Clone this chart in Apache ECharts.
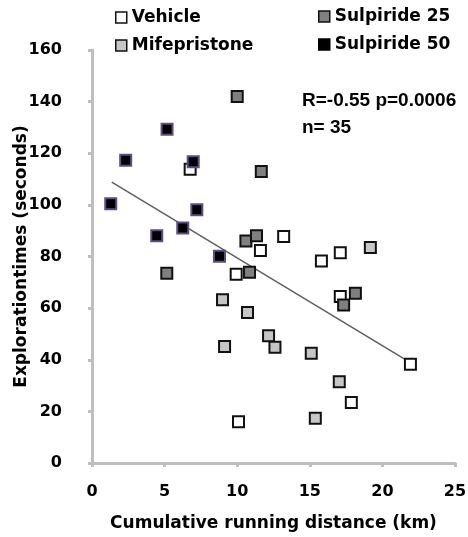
<!DOCTYPE html>
<html>
<head>
    <meta charset="utf-8">
    <title>Exploration vs running</title>
    <script src="https://cdn.jsdelivr.net/npm/echarts@6/dist/echarts.min.js"></script>
</head>
<body style="margin:0">
<div id="main" style="width: 468px;height:537px;"></div>
<script>
    // [km, seconds]
    var vehicle = [[6.76, 113.8], [13.2, 87.7], [11.6, 82.3], [15.8, 78.3], [17.1, 81.5],
        [9.93, 73.1], [17.1, 64.5], [21.93, 38.3], [17.86, 23.4], [10.09, 16]];
    var mifepristone = [[19.17, 83.5], [8.99, 63.2], [10.71, 58.3], [12.16, 49.3], [12.6, 44.8],
        [9.13, 45.1], [15.1, 42.5], [17.03, 31.5], [15.38, 17.3]];
    var sulpiride25 = [[10.0, 142], [11.66, 112.9], [5.15, 73.5], [10.6, 86], [11.33, 88],
        [10.85, 73.9], [18.14, 65.8], [17.33, 61.2]];
    var sulpiride50 = [[1.29, 100.4], [2.32, 117.3], [4.46, 88], [5.17, 129.3], [6.25, 91],
        [6.97, 116.7], [7.22, 98.1], [8.78, 80.1]];
    var trendLine = [[1.36, 108.8], [21.93, 38.9]];
    var xTicks = [0, 5, 10, 15, 20, 25];
    var yTicks = [0, 20, 40, 60, 80, 100, 120, 140, 160];

    var font = 'DejaVu Sans';
    var myChart = echarts.init(document.getElementById('main'));

    function sq(name, data, fill, border) {
        return {
            name: name,
            type: 'scatter',
            symbol: 'rect',
            symbolSize: 11,
            data: data,
            itemStyle: {color: fill, borderColor: border, borderWidth: 2, opacity: 1},
            z: 3
        };
    }

    var legendText = {fontFamily: font, fontSize: 17, fontWeight: 'bold', color: '#000'};

    myChart.setOption({
        animation: false,
        textStyle: {fontFamily: font},
        grid: {left: 92, right: 13, top: 50, bottom: 74, outerBoundsMode: 'none'},
        legend: [{
            data: ['Vehicle', 'Mifepristone'],
            orient: 'vertical', left: 110, top: 4, itemGap: 11,
            itemWidth: 11, itemHeight: 11, itemStyle: {borderWidth: 1.5},
            textStyle: legendText
        }, {
            data: ['Sulpiride 25', {name: 'Sulpiride 50', itemStyle: {borderColor: '#000'}}],
            orient: 'vertical', left: 313, top: 3, itemGap: 11,
            itemWidth: 11, itemHeight: 11, itemStyle: {borderWidth: 1.5},
            textStyle: legendText
        }],
        xAxis: {
            type: 'value', min: 0, max: 25, interval: 5,
            name: 'Cumulative running distance (km)',
            nameLocation: 'middle', nameGap: 52, nameMoveOverlap: false,
            nameTextStyle: {fontSize: 17, fontWeight: 'bold', color: '#000', fontFamily: font},
            axisLine: {lineStyle: {color: '#bfbfbf', width: 3}},
            axisTick: {show: true, length: 4, lineStyle: {color: '#bfbfbf', width: 3}},
            axisLabel: {
                fontSize: 16, fontWeight: 'bold', color: '#000', margin: 21,
                formatter: function (v) { return xTicks.indexOf(v) >= 0 ? String(v) : ''; }
            },
            splitLine: {show: false}
        },
        yAxis: {
            type: 'value', min: 0, max: 160, interval: 20,
            name: 'Explorationtimes (seconds)',
            nameLocation: 'middle', nameGap: 62, nameMoveOverlap: false,
            nameTextStyle: {fontSize: 17, fontWeight: 'bold', color: '#000', fontFamily: font},
            axisLine: {show: true, lineStyle: {color: '#bfbfbf', width: 3}},
            axisTick: {show: true, length: 4, lineStyle: {color: '#bfbfbf', width: 3}},
            axisLabel: {
                fontSize: 16, fontWeight: 'bold', color: '#000', margin: 21,
                padding: [0, 9, 0, 0],
                formatter: function (v) { return yTicks.indexOf(v) >= 0 ? String(v) : ''; }
            },
            splitLine: {show: false}
        },
        graphic: [{
            type: 'text', left: 302, top: 91,
            style: {text: 'R=-0.55 p=0.0006', font: 'bold 19px "Liberation Sans"', fill: '#000'}
        }, {
            type: 'text', left: 302, top: 118,
            style: {text: 'n= 35', font: 'bold 19px "Liberation Sans"', fill: '#000'}
        }],
        series: [
            {
                type: 'line', data: trendLine, symbol: 'none', silent: true,
                lineStyle: {color: '#5f5f5f', width: 1.5}, z: 2
            },
            sq('Vehicle', vehicle, '#ffffff', '#111111'),
            sq('Mifepristone', mifepristone, '#c6c6c6', '#111111'),
            sq('Sulpiride 25', sulpiride25, '#808080', '#111111'),
            sq('Sulpiride 50', sulpiride50, '#000000', '#5e4d86')
        ]
    });
</script>
</body>
</html>
